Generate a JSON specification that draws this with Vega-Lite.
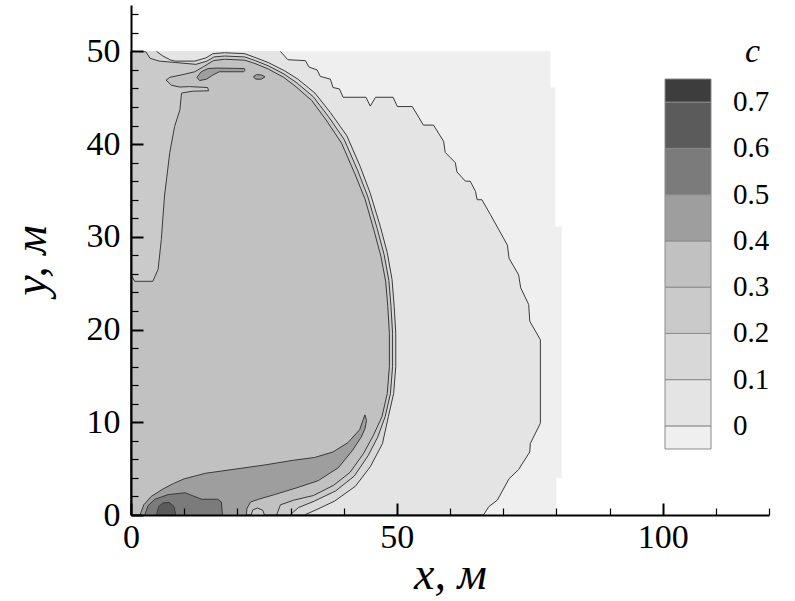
{
  "$schema": "https://vega.github.io/schema/vega-lite/v6.json",
  "width": 638,
  "height": 510,
  "autosize": {"type": "none"},
  "padding": {"left": 131, "top": 5, "right": 26, "bottom": 86},
  "background": "white",
  "config": {"view": {"stroke": null}, "font": "Liberation Serif"},
  "datasets": {
    "poly": [
      {"part":"bg","c":-0.01,"i":0,"x":0,"y":0},{"part":"bg","c":-0.01,"i":1,"x":0,"y":50},{"part":"bg","c":-0.01,"i":2,"x":78.9,"y":50},{"part":"bg","c":-0.01,"i":3,"x":78.9,"y":46.1},{"part":"bg","c":-0.01,"i":4,"x":79.8,"y":46.1},{"part":"bg","c":-0.01,"i":5,"x":79.8,"y":31.1},{"part":"bg","c":-0.01,"i":6,"x":81,"y":31.1},{"part":"bg","c":-0.01,"i":7,"x":81,"y":4},{"part":"bg","c":-0.01,"i":8,"x":80,"y":4},{"part":"bg","c":-0.01,"i":9,"x":80,"y":0},

      {"part":"c0","c":0.05,"i":0,"x":28.1,"y":50},{"part":"c0","c":0.05,"i":1,"x":29.5,"y":49.1},{"part":"c0","c":0.05,"i":2,"x":32.8,"y":49.0},{"part":"c0","c":0.05,"i":3,"x":33.5,"y":48.3},{"part":"c0","c":0.05,"i":4,"x":35.0,"y":48.0},{"part":"c0","c":0.05,"i":5,"x":35.6,"y":47.3},{"part":"c0","c":0.05,"i":6,"x":37.5,"y":47.0},{"part":"c0","c":0.05,"i":7,"x":38.0,"y":46.1},{"part":"c0","c":0.05,"i":8,"x":39.2,"y":45.95},{"part":"c0","c":0.05,"i":9,"x":39.9,"y":45.05},{"part":"c0","c":0.05,"i":10,"x":44.2,"y":45.05},{"part":"c0","c":0.05,"i":11,"x":45.0,"y":44.1},{"part":"c0","c":0.05,"i":12,"x":46.0,"y":45.05},{"part":"c0","c":0.05,"i":13,"x":49.3,"y":45.05},{"part":"c0","c":0.05,"i":14,"x":50.1,"y":44.05},{"part":"c0","c":0.05,"i":15,"x":52.9,"y":44.05},{"part":"c0","c":0.05,"i":16,"x":55.0,"y":42.05},{"part":"c0","c":0.05,"i":17,"x":56.9,"y":42.05},{"part":"c0","c":0.05,"i":18,"x":58.8,"y":40.3},{"part":"c0","c":0.05,"i":19,"x":59.1,"y":39.1},{"part":"c0","c":0.05,"i":20,"x":61.0,"y":38.0},{"part":"c0","c":0.05,"i":21,"x":61.3,"y":37.0},{"part":"c0","c":0.05,"i":22,"x":62.9,"y":36.0},{"part":"c0","c":0.05,"i":23,"x":63.8,"y":36.0},{"part":"c0","c":0.05,"i":24,"x":64.8,"y":34.9},{"part":"c0","c":0.05,"i":25,"x":65.1,"y":34.0},{"part":"c0","c":0.05,"i":26,"x":66.0,"y":34.0},{"part":"c0","c":0.05,"i":27,"x":67.6,"y":32.4},{"part":"c0","c":0.05,"i":28,"x":70.8,"y":29.1},{"part":"c0","c":0.05,"i":29,"x":71.1,"y":27.7},{"part":"c0","c":0.05,"i":30,"x":72.9,"y":25.9},{"part":"c0","c":0.05,"i":31,"x":73.3,"y":24.5},{"part":"c0","c":0.05,"i":32,"x":74.8,"y":22.7},{"part":"c0","c":0.05,"i":33,"x":75.0,"y":20.9},{"part":"c0","c":0.05,"i":34,"x":77.0,"y":18.9},{"part":"c0","c":0.05,"i":35,"x":77.0,"y":9.9},{"part":"c0","c":0.05,"i":36,"x":75.1,"y":7.7},{"part":"c0","c":0.05,"i":37,"x":75.0,"y":6.8},{"part":"c0","c":0.05,"i":38,"x":72.9,"y":4.9},{"part":"c0","c":0.05,"i":39,"x":71.1,"y":3.9},{"part":"c0","c":0.05,"i":40,"x":68.9,"y":1.6},{"part":"c0","c":0.05,"i":41,"x":67.3,"y":0.9},{"part":"c0","c":0.05,"i":42,"x":66.3,"y":0},{"part":"c0","c":0.05,"i":43,"x":0,"y":0},{"part":"c0","c":0.05,"i":44,"x":0,"y":50},

      {"part":"c1","c":0.15,"i":0,"x":4.8,"y":50},{"part":"c1","c":0.15,"i":1,"x":6.0,"y":49.5},{"part":"c1","c":0.15,"i":2,"x":7.5,"y":49.05},{"part":"c1","c":0.15,"i":3,"x":8.3,"y":48.95},{"part":"c1","c":0.15,"i":4,"x":12.0,"y":48.95},{"part":"c1","c":0.15,"i":5,"x":14.1,"y":49.3},{"part":"c1","c":0.15,"i":6,"x":15.4,"y":49.75},{"part":"c1","c":0.15,"i":7,"x":17.6,"y":49.85},{"part":"c1","c":0.15,"i":8,"x":21.4,"y":49.75},{"part":"c1","c":0.15,"i":9,"x":23.3,"y":49.35},{"part":"c1","c":0.15,"i":10,"x":25.8,"y":48.8},{"part":"c1","c":0.15,"i":11,"x":28.9,"y":47.9},{"part":"c1","c":0.15,"i":12,"x":31.4,"y":47.0},{"part":"c1","c":0.15,"i":13,"x":34.6,"y":45.5},{"part":"c1","c":0.15,"i":14,"x":37.5,"y":43.4},{"part":"c1","c":0.15,"i":15,"x":40.6,"y":40.9},{"part":"c1","c":0.15,"i":16,"x":43.1,"y":37.6},{"part":"c1","c":0.15,"i":17,"x":45.0,"y":34.7},{"part":"c1","c":0.15,"i":18,"x":46.9,"y":31.1},{"part":"c1","c":0.15,"i":19,"x":48.2,"y":28.3},{"part":"c1","c":0.15,"i":20,"x":49.1,"y":25.4},{"part":"c1","c":0.15,"i":21,"x":49.5,"y":22.5},{"part":"c1","c":0.15,"i":22,"x":49.8,"y":19.6},{"part":"c1","c":0.15,"i":23,"x":49.8,"y":16.0},{"part":"c1","c":0.15,"i":24,"x":49.4,"y":13.1},{"part":"c1","c":0.15,"i":25,"x":48.4,"y":10.6},{"part":"c1","c":0.15,"i":26,"x":47.3,"y":7.7},{"part":"c1","c":0.15,"i":27,"x":45.0,"y":5.2},{"part":"c1","c":0.15,"i":28,"x":42.2,"y":3.1},{"part":"c1","c":0.15,"i":29,"x":38.3,"y":1.5},{"part":"c1","c":0.15,"i":30,"x":35.0,"y":0.6},{"part":"c1","c":0.15,"i":31,"x":32.6,"y":0},{"part":"c1","c":0.15,"i":32,"x":0,"y":0},{"part":"c1","c":0.15,"i":33,"x":0,"y":50},

      {"part":"c2","c":0.25,"i":0,"x":0.4,"y":50},{"part":"c2","c":0.25,"i":1,"x":2.8,"y":49.95},{"part":"c2","c":0.25,"i":2,"x":3.6,"y":49.25},{"part":"c2","c":0.25,"i":3,"x":5.3,"y":48.95},{"part":"c2","c":0.25,"i":4,"x":8.3,"y":48.8},{"part":"c2","c":0.25,"i":5,"x":12.2,"y":48.6},{"part":"c2","c":0.25,"i":6,"x":14.3,"y":48.95},{"part":"c2","c":0.25,"i":7,"x":15.6,"y":49.4},{"part":"c2","c":0.25,"i":8,"x":17.6,"y":49.5},{"part":"c2","c":0.25,"i":9,"x":21.4,"y":49.4},{"part":"c2","c":0.25,"i":10,"x":23.4,"y":49.0},{"part":"c2","c":0.25,"i":11,"x":25.8,"y":48.45},{"part":"c2","c":0.25,"i":12,"x":28.8,"y":47.55},{"part":"c2","c":0.25,"i":13,"x":31.2,"y":46.6},{"part":"c2","c":0.25,"i":14,"x":34.3,"y":45.1},{"part":"c2","c":0.25,"i":15,"x":37.1,"y":43.0},{"part":"c2","c":0.25,"i":16,"x":40.1,"y":40.5},{"part":"c2","c":0.25,"i":17,"x":42.6,"y":37.2},{"part":"c2","c":0.25,"i":18,"x":44.5,"y":34.4},{"part":"c2","c":0.25,"i":19,"x":46.3,"y":30.9},{"part":"c2","c":0.25,"i":20,"x":47.6,"y":28.1},{"part":"c2","c":0.25,"i":21,"x":48.5,"y":25.3},{"part":"c2","c":0.25,"i":22,"x":48.9,"y":22.5},{"part":"c2","c":0.25,"i":23,"x":49.2,"y":19.6},{"part":"c2","c":0.25,"i":24,"x":49.2,"y":16.0},{"part":"c2","c":0.25,"i":25,"x":48.8,"y":13.1},{"part":"c2","c":0.25,"i":26,"x":47.8,"y":10.6},{"part":"c2","c":0.25,"i":27,"x":46.4,"y":8.4},{"part":"c2","c":0.25,"i":28,"x":44.6,"y":6.4},{"part":"c2","c":0.25,"i":29,"x":42.0,"y":4.2},{"part":"c2","c":0.25,"i":30,"x":38.5,"y":2.6},{"part":"c2","c":0.25,"i":31,"x":34.5,"y":1.5},{"part":"c2","c":0.25,"i":32,"x":31.5,"y":0.8},{"part":"c2","c":0.25,"i":33,"x":29.9,"y":0},{"part":"c2","c":0.25,"i":34,"x":0,"y":0},{"part":"c2","c":0.25,"i":35,"x":0,"y":50},

      {"part":"c3","c":0.35,"i":0,"x":0,"y":25.9},{"part":"c3","c":0.35,"i":1,"x":0.7,"y":25.2},{"part":"c3","c":0.35,"i":2,"x":4.1,"y":25.2},{"part":"c3","c":0.35,"i":3,"x":5.1,"y":26.5},{"part":"c3","c":0.35,"i":4,"x":5.7,"y":29.7},{"part":"c3","c":0.35,"i":5,"x":6.3,"y":34.4},{"part":"c3","c":0.35,"i":6,"x":7.3,"y":39.1},{"part":"c3","c":0.35,"i":7,"x":8.2,"y":41.9},{"part":"c3","c":0.35,"i":8,"x":9.2,"y":43.7},{"part":"c3","c":0.35,"i":9,"x":9.5,"y":45.5},{"part":"c3","c":0.35,"i":10,"x":11.5,"y":45.7},{"part":"c3","c":0.35,"i":11,"x":14.6,"y":45.75},{"part":"c3","c":0.35,"i":12,"x":14.4,"y":46.1},{"part":"c3","c":0.35,"i":13,"x":11.0,"y":46.2},{"part":"c3","c":0.35,"i":14,"x":9.2,"y":46.15},{"part":"c3","c":0.35,"i":15,"x":7.6,"y":46.35},{"part":"c3","c":0.35,"i":16,"x":6.6,"y":46.9},{"part":"c3","c":0.35,"i":17,"x":7.3,"y":47.2},{"part":"c3","c":0.35,"i":18,"x":9.8,"y":47.5},{"part":"c3","c":0.35,"i":19,"x":12.0,"y":47.8},{"part":"c3","c":0.35,"i":20,"x":13.5,"y":48.3},{"part":"c3","c":0.35,"i":21,"x":15.5,"y":49.0},{"part":"c3","c":0.35,"i":22,"x":17.6,"y":49.15},{"part":"c3","c":0.35,"i":23,"x":21.4,"y":49.05},{"part":"c3","c":0.35,"i":24,"x":23.5,"y":48.65},{"part":"c3","c":0.35,"i":25,"x":25.8,"y":48.1},{"part":"c3","c":0.35,"i":26,"x":28.7,"y":47.2},{"part":"c3","c":0.35,"i":27,"x":31.0,"y":46.2},{"part":"c3","c":0.35,"i":28,"x":34.0,"y":44.7},{"part":"c3","c":0.35,"i":29,"x":36.7,"y":42.6},{"part":"c3","c":0.35,"i":30,"x":39.6,"y":40.1},{"part":"c3","c":0.35,"i":31,"x":42.1,"y":36.8},{"part":"c3","c":0.35,"i":32,"x":44.0,"y":34.1},{"part":"c3","c":0.35,"i":33,"x":45.7,"y":30.7},{"part":"c3","c":0.35,"i":34,"x":47.0,"y":27.9},{"part":"c3","c":0.35,"i":35,"x":47.9,"y":25.2},{"part":"c3","c":0.35,"i":36,"x":48.3,"y":22.5},{"part":"c3","c":0.35,"i":37,"x":48.6,"y":19.6},{"part":"c3","c":0.35,"i":38,"x":48.6,"y":16.0},{"part":"c3","c":0.35,"i":39,"x":48.2,"y":13.1},{"part":"c3","c":0.35,"i":40,"x":47.2,"y":10.6},{"part":"c3","c":0.35,"i":41,"x":45.6,"y":8.6},{"part":"c3","c":0.35,"i":42,"x":43.7,"y":6.6},{"part":"c3","c":0.35,"i":43,"x":41.2,"y":4.6},{"part":"c3","c":0.35,"i":44,"x":38.1,"y":3.2},{"part":"c3","c":0.35,"i":45,"x":34.3,"y":2.1},{"part":"c3","c":0.35,"i":46,"x":30.6,"y":1.6},{"part":"c3","c":0.35,"i":47,"x":28.1,"y":1.1},{"part":"c3","c":0.35,"i":48,"x":27.4,"y":0},{"part":"c3","c":0.35,"i":49,"x":0,"y":0},

      {"part":"ring","c":0.25,"i":0,"x":22.6,"y":0},{"part":"ring","c":0.25,"i":1,"x":22.9,"y":0.55},{"part":"ring","c":0.25,"i":2,"x":23.8,"y":0.75},{"part":"ring","c":0.25,"i":3,"x":24.8,"y":0.5},{"part":"ring","c":0.25,"i":4,"x":25.1,"y":0},

      {"part":"b4","c":0.45,"i":0,"x":1.7,"y":0},{"part":"b4","c":0.45,"i":1,"x":2.4,"y":1.1},{"part":"b4","c":0.45,"i":2,"x":3.8,"y":2.0},{"part":"b4","c":0.45,"i":3,"x":6.0,"y":2.8},{"part":"b4","c":0.45,"i":4,"x":8.0,"y":3.4},{"part":"b4","c":0.45,"i":5,"x":10.0,"y":3.9},{"part":"b4","c":0.45,"i":6,"x":14.0,"y":4.5},{"part":"b4","c":0.45,"i":7,"x":19.0,"y":4.9},{"part":"b4","c":0.45,"i":8,"x":25.2,"y":5.4},{"part":"b4","c":0.45,"i":9,"x":30.5,"y":5.9},{"part":"b4","c":0.45,"i":10,"x":34.5,"y":6.2},{"part":"b4","c":0.45,"i":11,"x":38.0,"y":6.8},{"part":"b4","c":0.45,"i":12,"x":40.8,"y":7.8},{"part":"b4","c":0.45,"i":13,"x":43.0,"y":9.2},{"part":"b4","c":0.45,"i":14,"x":44.0,"y":10.8},{"part":"b4","c":0.45,"i":15,"x":44.3,"y":10.2},{"part":"b4","c":0.45,"i":16,"x":44.0,"y":9.3},{"part":"b4","c":0.45,"i":17,"x":43.3,"y":8.4},{"part":"b4","c":0.45,"i":18,"x":41.7,"y":7.0},{"part":"b4","c":0.45,"i":19,"x":39.0,"y":5.1},{"part":"b4","c":0.45,"i":20,"x":35.2,"y":3.7},{"part":"b4","c":0.45,"i":21,"x":31.0,"y":2.9},{"part":"b4","c":0.45,"i":22,"x":27.0,"y":2.2},{"part":"b4","c":0.45,"i":23,"x":24.0,"y":1.7},{"part":"b4","c":0.45,"i":24,"x":22.5,"y":1.4},{"part":"b4","c":0.45,"i":25,"x":21.8,"y":0.7},{"part":"b4","c":0.45,"i":26,"x":21.7,"y":0},

      {"part":"bA","c":0.45,"i":0,"x":12.4,"y":47.2},{"part":"bA","c":0.45,"i":1,"x":13.2,"y":47.8},{"part":"bA","c":0.45,"i":2,"x":14.5,"y":48.15},{"part":"bA","c":0.45,"i":3,"x":16.2,"y":48.2},{"part":"bA","c":0.45,"i":4,"x":21.3,"y":48.15},{"part":"bA","c":0.45,"i":5,"x":21.45,"y":47.95},{"part":"bA","c":0.45,"i":6,"x":21.2,"y":47.8},{"part":"bA","c":0.45,"i":7,"x":16.6,"y":47.8},{"part":"bA","c":0.45,"i":8,"x":15.4,"y":47.45},{"part":"bA","c":0.45,"i":9,"x":14.2,"y":47.0},{"part":"bA","c":0.45,"i":10,"x":12.9,"y":46.85},{"part":"bA","c":0.45,"i":11,"x":12.4,"y":47.2},

      {"part":"bB","c":0.45,"i":0,"x":23.0,"y":47.25},{"part":"bB","c":0.45,"i":1,"x":23.6,"y":47.5},{"part":"bB","c":0.45,"i":2,"x":24.6,"y":47.45},{"part":"bB","c":0.45,"i":3,"x":25.2,"y":47.25},{"part":"bB","c":0.45,"i":4,"x":24.5,"y":47.0},{"part":"bB","c":0.45,"i":5,"x":23.5,"y":47.0},{"part":"bB","c":0.45,"i":6,"x":23.0,"y":47.25},

      {"part":"b5","c":0.55,"i":0,"x":2.6,"y":0},{"part":"b5","c":0.55,"i":1,"x":3.2,"y":1.0},{"part":"b5","c":0.55,"i":2,"x":4.5,"y":1.7},{"part":"b5","c":0.55,"i":3,"x":7.0,"y":2.2},{"part":"b5","c":0.55,"i":4,"x":10.2,"y":2.4},{"part":"b5","c":0.55,"i":5,"x":11.5,"y":2.1},{"part":"b5","c":0.55,"i":6,"x":13.3,"y":1.7},{"part":"b5","c":0.55,"i":7,"x":16.3,"y":1.7},{"part":"b5","c":0.55,"i":8,"x":17.0,"y":1.4},{"part":"b5","c":0.55,"i":9,"x":17.2,"y":0},

      {"part":"b6","c":0.65,"i":0,"x":4.8,"y":0},{"part":"b6","c":0.65,"i":1,"x":5.2,"y":0.9},{"part":"b6","c":0.65,"i":2,"x":6.0,"y":1.3},{"part":"b6","c":0.65,"i":3,"x":7.2,"y":1.35},{"part":"b6","c":0.65,"i":4,"x":8.1,"y":0.9},{"part":"b6","c":0.65,"i":5,"x":8.4,"y":0}
    ]
  },
  "data": {"name": "poly"},
  "encoding": {
    "x": {
      "field": "x", "type": "quantitative",
      "scale": {"domain": [0, 120], "nice": false, "zero": false},
      "axis": {
        "values": [0,10,20,30,40,50,60,70,80,90,100,110,120],
        "labelExpr": "datum.value % 50 === 0 ? datum.label : ''",
        "tickSize": {"condition": {"test": "datum.value % 50 === 0", "value": -12}, "value": -7},
        "tickWidth": {"condition": {"test": "datum.value % 50 === 0", "value": 2}, "value": 1.2},
        "tickColor": "black", "domainColor": "black", "domainWidth": 2, "grid": false,
        "labelPadding": 17, "labelFont": "Liberation Serif", "labelFontSize": 34, "labelColor": "black",
        "labelFlush": false, "labelOverlap": false,
        "title": "x, м", "titleFont": "Liberation Serif", "titleFontSize": 46, "titleFontStyle": "italic",
        "titleFontWeight": "normal", "titleColor": "black", "titleY": 73, "titleBaseline": "alphabetic",
        "zindex": 1
      }
    },
    "y": {
      "field": "y", "type": "quantitative",
      "scale": {"domain": [0, 55], "nice": false, "zero": false},
      "axis": {
        "values": [0,2,4,6,8,10,12,14,16,18,20,22,24,26,28,30,32,34,36,38,40,42,44,46,48,50,52,54],
        "labelExpr": "datum.value % 10 === 0 ? datum.label : ''",
        "tickSize": {"condition": {"test": "datum.value % 10 === 0", "value": -12}, "value": -7},
        "tickWidth": {"condition": {"test": "datum.value % 10 === 0", "value": 2}, "value": 1.2},
        "tickColor": "black", "domainColor": "black", "domainWidth": 2, "grid": false,
        "labelPadding": 23, "labelFont": "Liberation Serif", "labelFontSize": 34, "labelColor": "black",
        "labelFlush": false, "labelOverlap": false,
        "title": "y, м", "titleFont": "Liberation Serif", "titleFontSize": 46, "titleFontStyle": "italic",
        "titleFontWeight": "normal", "titleColor": "black", "titleX": -86, "titleAngle": 270, "titleBaseline": "alphabetic",
        "zindex": 1
      }
    },
    "order": {"field": "i", "type": "quantitative"},
    "detail": {"field": "part", "type": "nominal"},
    "fill": {
      "field": "c", "type": "quantitative",
      "scale": {
        "type": "threshold",
        "domain": [0, 0.1, 0.2, 0.3, 0.4, 0.5, 0.6, 0.7],
        "range": ["#efefef", "#e4e4e4", "#d8d8d8", "#cacaca", "#c1c1c1", "#9e9e9e", "#7b7b7b", "#5b5b5b", "#3d3d3d"]
      },
      "legend": {
        "type": "gradient", "orient": "none", "legendX": 534, "legendY": 30, "direction": "vertical",
        "padding": 0,
        "title": "c", "titleFont": "Liberation Serif", "titleFontStyle": "italic", "titleFontWeight": "normal",
        "titleFontSize": 34, "titleColor": "black", "titleAnchor": "end", "titlePadding": 10,
        "gradientLength": 370, "gradientThickness": 46,
        "gradientStrokeColor": "#8a8a8a", "gradientStrokeWidth": 1,
        "labelFont": "Liberation Serif", "labelFontSize": 29, "labelColor": "black", "labelOffset": 22,
        "labelOverlap": false,
        "labelExpr": "isFinite(datum.value) ? (datum.value === 0 ? '0' : format(datum.value, '.1f')) : ''",
        "encode": {
          "title": {"update": {"dx": {"value": -9}}},
          "gradient": {"update": {
            "y": {"signal": "(1 - clamp((9*datum.perc - 0.5)/8, 0, 1)) * 370"},
            "y2": {"signal": "(1 - clamp((9*datum.perc2 - 0.5)/8, 0, 1)) * 370"}
          }},
          "labels": {"update": {
            "y": {"signal": "(1 - clamp((9*datum.perc - 0.5)/8, 0, 1)) * 370"},
            "baseline": {"value": "middle"}
          }}
        }
      }
    }
  },
  "layer": [
    {"transform": [{"filter": {"field": "part", "equal": "bg"}}], "mark": {"type": "line", "strokeWidth": 0, "strokeOpacity": 0}},
    {"transform": [{"filter": {"field": "part", "equal": "c0"}}], "mark": {"type": "line", "stroke": "#3a3a3a", "strokeWidth": 1}},
    {"transform": [{"filter": {"field": "part", "equal": "c1"}}], "mark": {"type": "line", "stroke": "#3a3a3a", "strokeWidth": 1}},
    {"transform": [{"filter": {"field": "part", "equal": "c2"}}], "mark": {"type": "line", "stroke": "#3a3a3a", "strokeWidth": 1}},
    {"transform": [{"filter": {"field": "part", "equal": "c3"}}], "mark": {"type": "line", "stroke": "#3a3a3a", "strokeWidth": 1}},
    {"transform": [{"filter": {"field": "part", "oneOf": ["ring", "b4", "bA", "bB"]}}], "mark": {"type": "line", "stroke": "#3a3a3a", "strokeWidth": 1}},
    {"transform": [{"filter": {"field": "part", "equal": "b5"}}], "mark": {"type": "line", "stroke": "#3a3a3a", "strokeWidth": 1}},
    {"transform": [{"filter": {"field": "part", "equal": "b6"}}], "mark": {"type": "line", "stroke": "#3a3a3a", "strokeWidth": 1}}
  ]
}
